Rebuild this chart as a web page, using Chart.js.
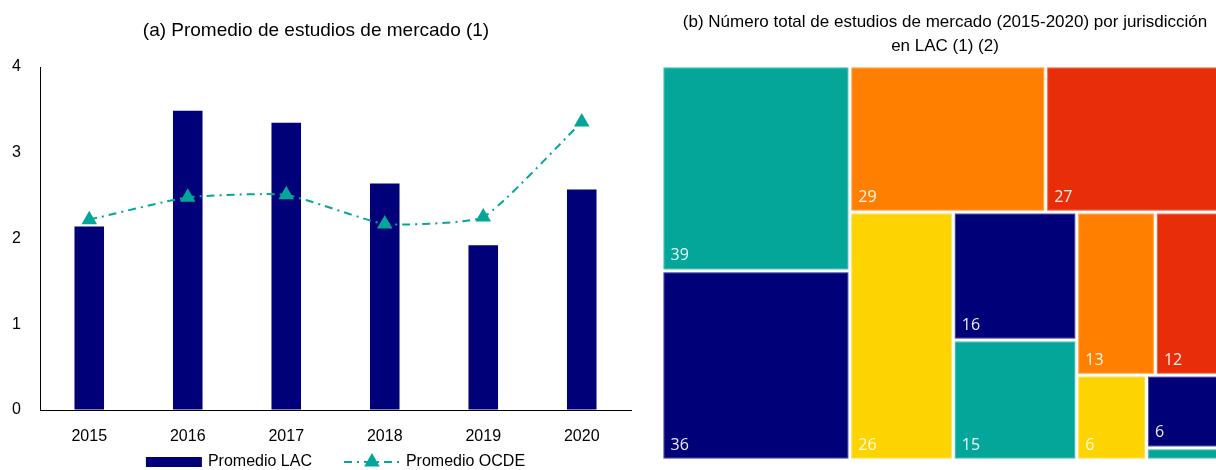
<!DOCTYPE html>
<html lang="es">
<head>
<meta charset="utf-8">
<script src="https://cdn.jsdelivr.net/npm/chart.js@4.4.1/dist/chart.umd.min.js"></script>
<style>
  html, body { margin: 0; padding: 0; background: #fff; overflow: hidden; width: 1216px; height: 470px; }
  #avgChart { position: absolute; left: 0; top: 0; }
  #treeChart { position: absolute; left: 662px; top: 0; }
</style>
</head>
<body>
<canvas id="avgChart" width="640" height="470"></canvas>
<canvas id="treeChart" width="566" height="470"></canvas>
<script>
// (a) averages per year
const years = ['2015', '2016', '2017', '2018', '2019', '2020'];
const lacAvg = [2.14, 3.49, 3.35, 2.64, 1.92, 2.57];
const ocdeAvg = [2.22, 2.48, 2.51, 2.17, 2.25, 3.36];

// (b) total studies per jurisdiction, largest first
const jurisdictionTotals = [39, 36, 29, 27, 26, 16, 15, 13, 12, 6, 6, 1];

const NAVY = '#000078';
const TEAL = '#04a699';
const ORANGE = '#ff8000';
const RED = '#e82e08';
const YELLOW = '#fdd400';
const jurisdictionColors = [TEAL, NAVY, ORANGE, RED, YELLOW, NAVY, TEAL, ORANGE, RED, YELLOW, NAVY, TEAL];

// the original uses a narrow Arial; fall back to regular sans at smaller sizes
function hasFont(name) {
  const c = document.createElement('canvas').getContext('2d');
  const probe = 'Promedio de estudios 2015';
  c.font = '40px monospace';
  const a = c.measureText(probe).width;
  c.font = `40px "${name}", monospace`;
  return c.measureText(probe).width !== a;
}
const narrow = hasFont('Liberation Sans Narrow');
const FONT = narrow ? '"Liberation Sans Narrow", "Arial Narrow", sans-serif' : '"Liberation Sans", Arial, sans-serif';
const SZ = narrow
  ? { title: 23, tick: 19, legend: 19, treeTitle: 21 }
  : { title: 19, tick: 16, legend: 16, treeTitle: 17 };

Chart.defaults.font.family = FONT;
Chart.defaults.color = '#000';

const legendPlugin = {
  id: 'bottomLegend',
  afterDraw(chart) {
    const { ctx, chartArea } = chart;
    const bar = chart.data.datasets.find(d => d.type !== 'line');
    const line = chart.data.datasets.find(d => d.type === 'line');
    const sw = 56, gap = 6, between = 32;
    ctx.save();
    ctx.font = `${SZ.legend}px ${FONT}`;
    const w1 = ctx.measureText(bar.label).width;
    const w2 = ctx.measureText(line.label).width;
    const total = sw + gap + w1 + between + sw + gap + w2;
    let x = (chartArea.left + chartArea.right) / 2 - total / 2;
    const y = chart.height - 8;

    ctx.fillStyle = bar.backgroundColor;
    ctx.fillRect(x, y - 5, sw, 10);
    ctx.fillStyle = '#000';
    ctx.textBaseline = 'middle';
    ctx.fillText(bar.label, x + sw + gap, y);
    x += sw + gap + w1 + between;

    ctx.strokeStyle = line.borderColor;
    ctx.lineWidth = line.borderWidth;
    ctx.setLineDash(line.borderDash);
    ctx.beginPath();
    ctx.moveTo(x, y);
    ctx.lineTo(x + sw, y);
    ctx.stroke();
    ctx.setLineDash([]);
    ctx.fillStyle = line.pointBackgroundColor;
    ctx.strokeStyle = line.pointBorderColor;
    Chart.helpers.drawPoint(ctx, { pointStyle: 'triangle', radius: line.pointRadius, borderWidth: 1, rotation: 0 }, x + sw / 2, y);
    ctx.fillStyle = '#000';
    ctx.fillText(line.label, x + sw + gap, y);
    ctx.restore();
  }
};

new Chart(document.getElementById('avgChart'), {
  type: 'bar',
  data: {
    labels: years,
    datasets: [
      {
        type: 'line',
        label: 'Promedio OCDE',
        data: ocdeAvg,
        borderColor: TEAL,
        borderWidth: 2,
        borderDash: [8, 5, 2, 5],
        tension: 0.15,
        pointStyle: 'triangle',
        pointRadius: 7,
        pointBackgroundColor: TEAL,
        pointBorderColor: TEAL,
        order: 0,
      },
      {
        type: 'bar',
        label: 'Promedio LAC',
        data: lacAvg,
        backgroundColor: NAVY,
        borderWidth: 0,
        categoryPercentage: 1,
        barPercentage: 0.3,
        order: 1,
      },
    ],
  },
  options: {
    responsive: false,
    animation: false,
    layout: { padding: { top: 0, left: 0, right: 8, bottom: 24 } },
    plugins: {
      legend: { display: false },
      tooltip: { enabled: false },
      title: {
        display: true,
        text: '(a) Promedio de estudios de mercado (1)',
        font: { size: SZ.title, weight: 'normal', lineHeight: 1.2 },
        color: '#000',
        padding: { top: 19, bottom: 67 - 19 - SZ.title * 1.2 },
      },
    },
    scales: {
      x: {
        grid: { display: true, drawOnChartArea: false, drawTicks: false },
        border: { display: true, color: '#000', width: 1 },
        ticks: { font: { size: SZ.tick }, color: '#000', padding: narrow ? 15 : 17 },
        afterFit: s => { s.height = 36; },
      },
      y: {
        min: 0,
        max: 4,
        grid: { display: true, drawOnChartArea: false, drawTicks: false },
        border: { display: true, color: '#000', width: 1 },
        ticks: { stepSize: 1, font: { size: SZ.tick }, color: '#000', padding: 19 },
        afterFit: s => { s.width = 40; },
      },
    },
  },
  plugins: [legendPlugin],
});

// squarified-style layout, working in pixel-proportional units
function layoutTreemap(values, W, H) {
  const total = values.reduce((a, b) => a + b, 0);
  const areas = values.map(v => v / total * W * H);
  const cells = [];
  let rx = 0, ry = 0, rw = W, rh = H, i = 0;

  const score = (row, side, vertical) => {
    const t = row.reduce((a, k) => a + areas[k], 0) / side;
    let maxR = 0;
    row.forEach(k => {
      const l = areas[k] / t;
      maxR = Math.max(maxR, vertical ? t / l : l / t);
    });
    return Math.abs(maxR - 1);
  };

  while (i < values.length) {
    const vertical = rw >= rh;
    const side = vertical ? rh : rw;
    const row = [i++];
    let best = score(row, side, vertical);
    while (i < values.length) {
      const s = score(row.concat(i), side, vertical);
      if (s > best) break;
      best = s;
      row.push(i++);
    }
    const t = row.reduce((a, k) => a + areas[k], 0) / side;
    let off = 0;
    row.forEach(k => {
      const l = areas[k] / t;
      cells[k] = vertical ? { x: rx, y: ry + off, w: t, h: l } : { x: rx + off, y: ry, w: l, h: t };
      off += l;
    });
    if (vertical) { rx += t; rw -= t; } else { ry += t; rh -= t; }
  }
  return cells;
}

const treemapPlugin = {
  id: 'treemap',
  beforeDatasetsDraw(chart) {
    const { ctx, chartArea, scales: { x, y } } = chart;
    const W = chartArea.width, H = chartArea.height;
    const cells = layoutTreemap(jurisdictionTotals, W, H);
    ctx.save();
    cells.forEach((c, k) => {
      const x0 = x.getPixelForValue(c.x / W);
      const x1 = x.getPixelForValue((c.x + c.w) / W);
      const y0 = y.getPixelForValue(c.y / H);
      const y1 = y.getPixelForValue((c.y + c.h) / H);
      ctx.fillStyle = jurisdictionColors[k];
      ctx.fillRect(x0 + 1.5, y0 + 1.5, x1 - x0 - 3, y1 - y0 - 3);
      ctx.strokeStyle = 'rgba(255,255,255,0.3)';
      ctx.lineWidth = 1;
      ctx.strokeRect(x0 + 2, y0 + 2, x1 - x0 - 4, y1 - y0 - 4);
      if (y1 - y0 > 24) {
        ctx.fillStyle = 'rgba(255,255,255,0.92)';
        ctx.font = '16px "Open Sans", "Noto Sans", sans-serif';
        ctx.textBaseline = 'alphabetic';
        ctx.fillText(String(jurisdictionTotals[k]), x0 + 8.5, y1 - 10.5);
      }
    });
    ctx.restore();
  }
};

new Chart(document.getElementById('treeChart'), {
  type: 'scatter',
  data: { datasets: [{ data: [] }] },
  options: {
    responsive: false,
    animation: false,
    layout: { padding: { top: 0, left: 0, right: 0, bottom: 10 } },
    plugins: {
      legend: { display: false },
      tooltip: { enabled: false },
      title: {
        display: true,
        text: ['(b) Número total de estudios de mercado (2015-2020) por jurisdicción', 'en LAC (1) (2)'],
        font: { size: SZ.treeTitle, weight: 'normal', lineHeight: 24 / SZ.treeTitle },
        color: '#000',
        padding: { top: 10, bottom: 8 },
      },
    },
    scales: {
      x: { type: 'linear', min: 0, max: 1, display: false },
      y: { type: 'linear', min: 0, max: 1, reverse: true, display: false },
    },
  },
  plugins: [treemapPlugin],
});
</script>
</body>
</html>
